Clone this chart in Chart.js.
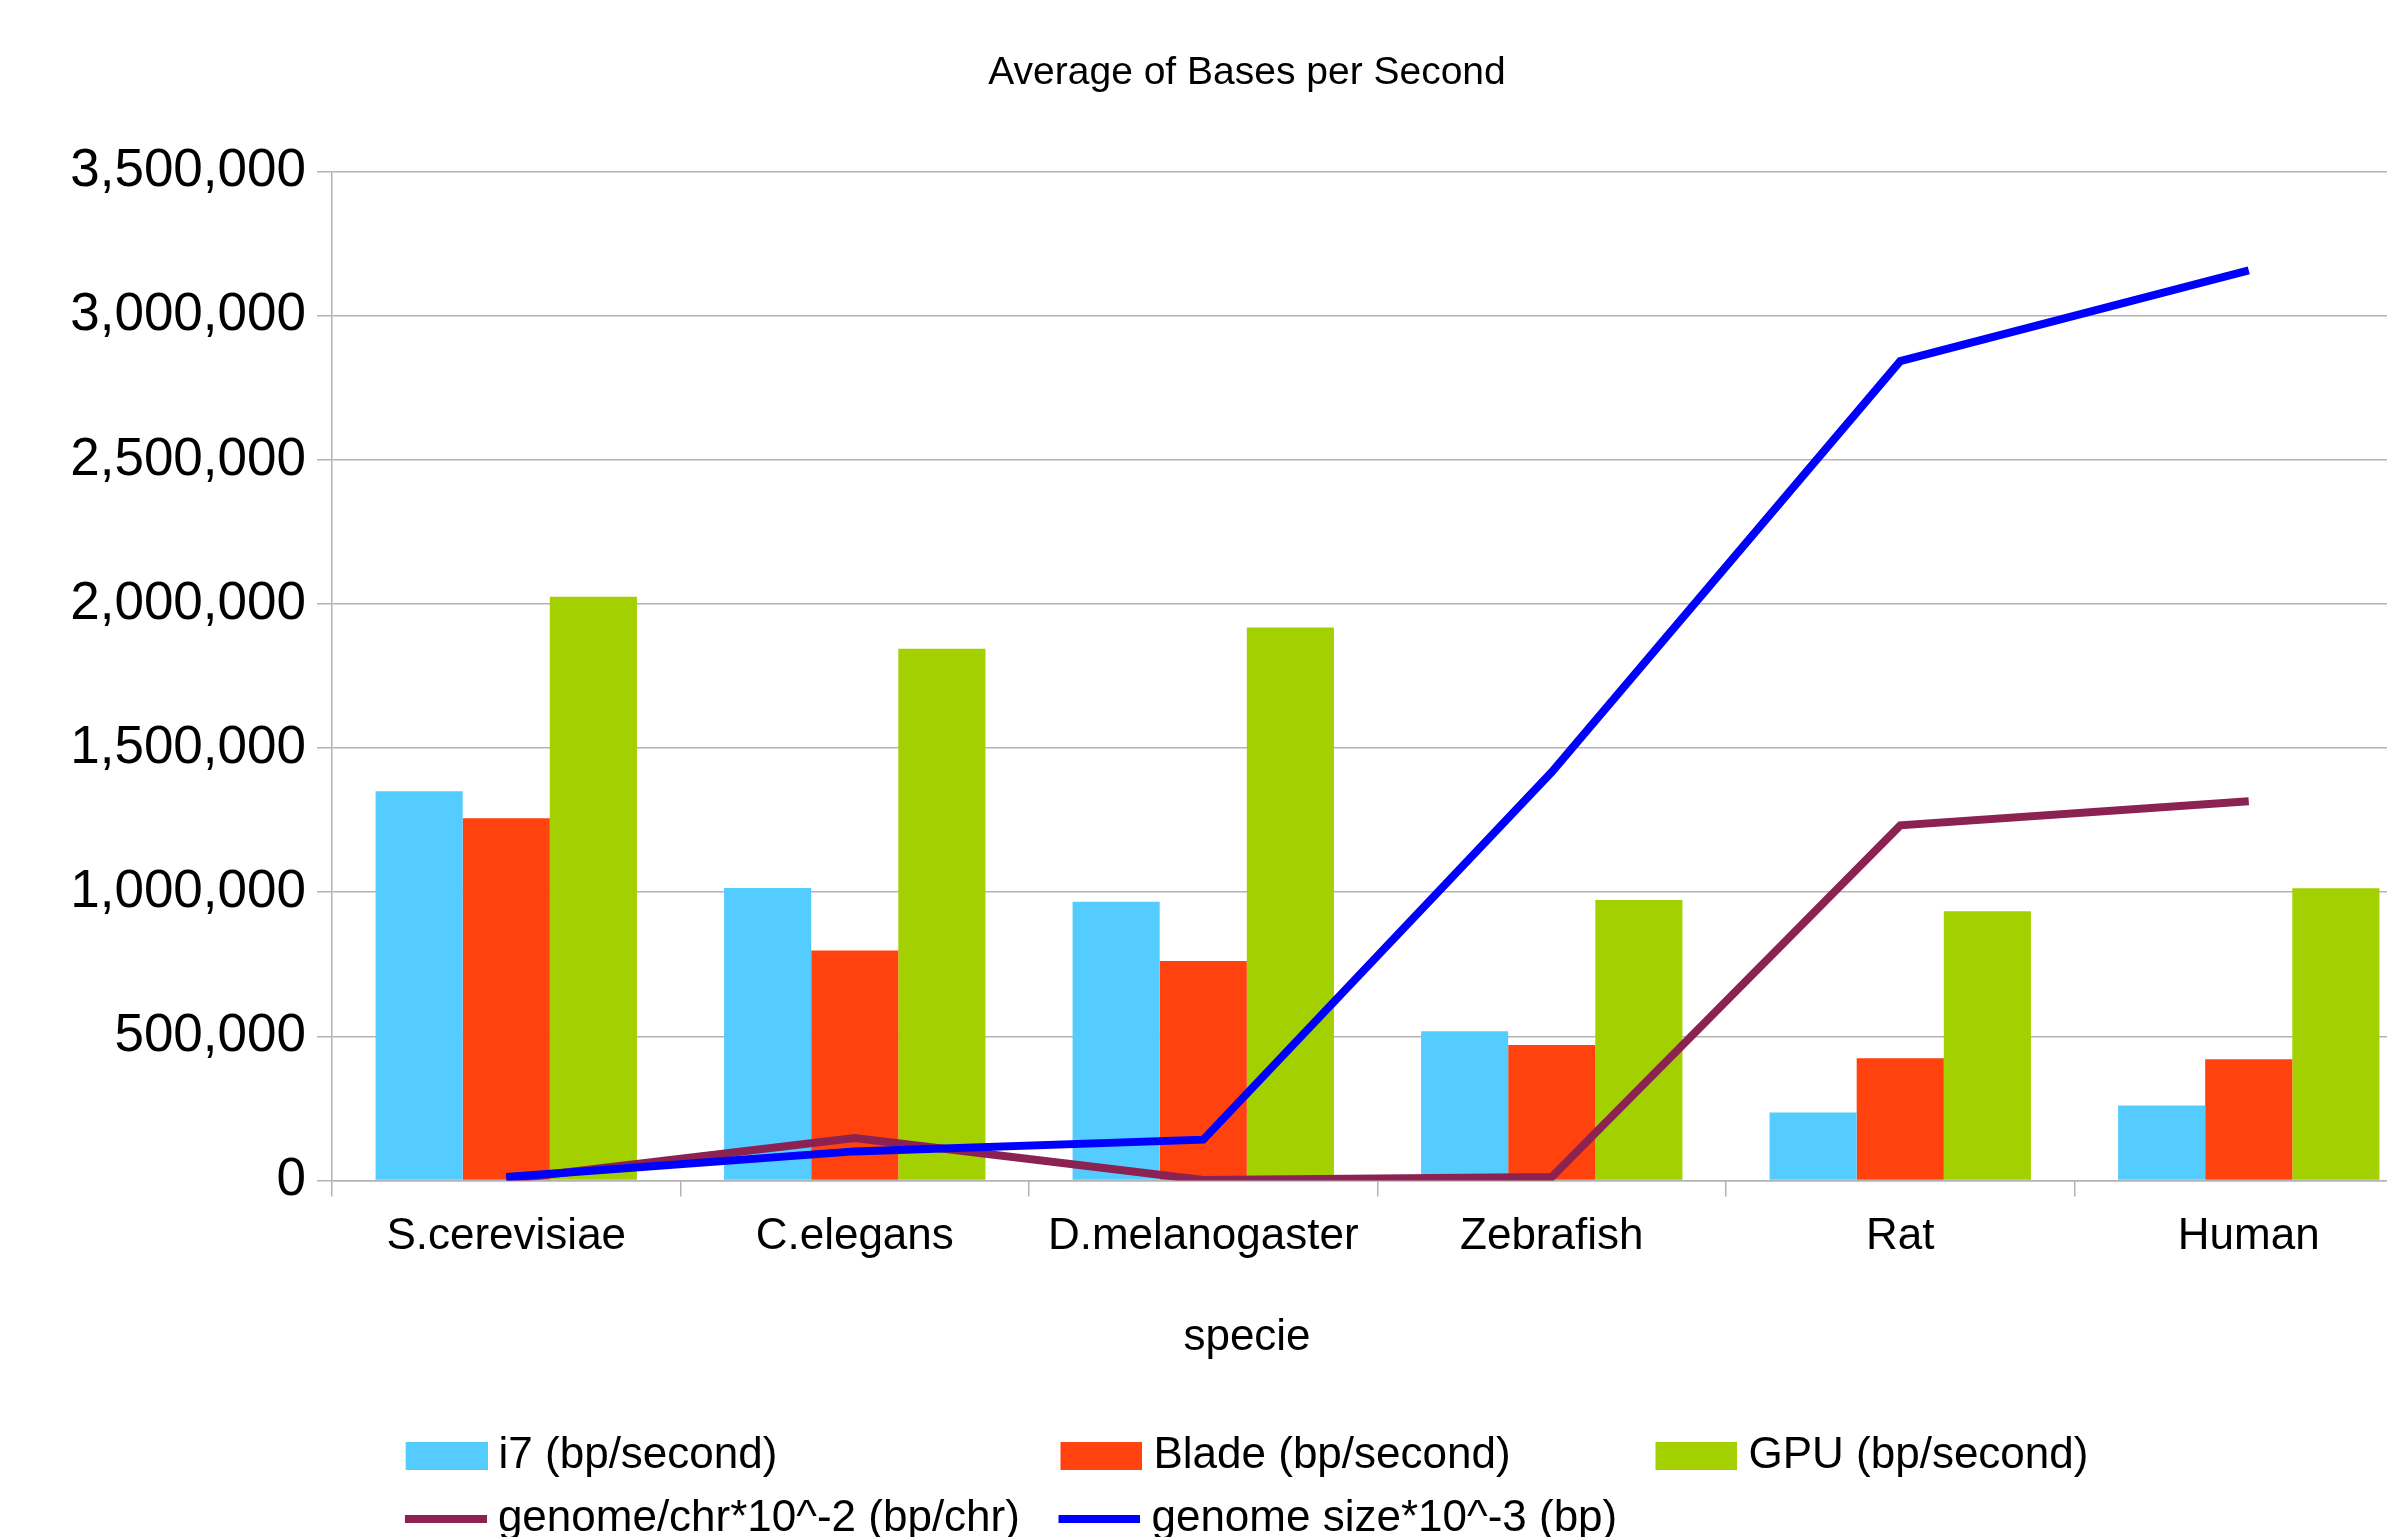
<!DOCTYPE html>
<html>
<head>
<meta charset="utf-8">
<title>Average of Bases per Second</title>
<script src="https://cdn.jsdelivr.net/npm/chart.js@4.4.0/dist/chart.umd.min.js"></script>
<style>
    html, body { margin: 0; padding: 0; background: #fff; }
    #quadro { width: 2387px; height: 1537px; overflow: hidden; }
    #grafico { display: block; width: 2494px; height: 1551px; }
</style>
</head>
<body>
<div id="quadro"><canvas id="grafico" width="2494" height="1551"></canvas></div>
<script>
// dados
const especies = ['S.cerevisiae', 'C.elegans', 'D.melanogaster', 'Zebrafish', 'Rat', 'Human'];
const i7 = [1350000, 1015000, 967000, 518000, 236000, 260000];
const blade = [1257000, 798000, 761000, 470000, 424000, 420000];
const gpu = [2025000, 1845000, 1919000, 973000, 934000, 1014000];
const genomaCromossomo = [3000, 147000, 1500, 12000, 1232000, 1316000];
const tamanhoGenoma = [11500, 100700, 141400, 1417000, 2843000, 3158000];
const ticksY = [0, 500000, 1000000, 1500000, 2000000, 2500000, 3000000, 3500000];

const cinza = '#b3b3b3';
const fonte = '"Liberation Sans", Arial, sans-serif';

Chart.defaults.font.family = fonte;
Chart.defaults.color = '#000';

// completa o texto com espacos ate a largura pedida (colunas da legenda)
function completar(ctx, texto, largura) {
    while (ctx.measureText(texto + ' ').width <= largura) texto += ' ';
    let n = 0;
    while (ctx.measureText(texto).width < largura - 1 && n < 40) { texto += '\u200A'; n++; }
    return texto;
}

// simbolo da legenda: caixa (barras) ou traco (linhas), encostado no texto
function simbolo(cor, linha) {
    const c = document.createElement('canvas');
    c.width = 93;
    c.height = 28;
    const g = c.getContext('2d');
    g.fillStyle = cor;
    if (linha) g.fillRect(11, 10, 82, 8);
    else g.fillRect(11, 0, 82, 28);
    return c;
}

function gerarLegenda(chart) {
    const itens = Chart.defaults.plugins.legend.labels.generateLabels(chart);
    itens.sort((a, b) => a.datasetIndex - b.datasetIndex);
    const ctx = chart.ctx;
    ctx.save();
    ctx.font = '44px ' + fonte;
    itens[0].text = completar(ctx, itens[0].text, 541);
    itens[3].text = completar(ctx, itens[3].text, 541);
    itens[1].text = completar(ctx, itens[1].text, 481);
    const w = itens.map(it => ctx.measureText(it.text).width);
    itens[4].text = completar(ctx, itens[4].text, 112 + w[0] + w[1] + w[2] - w[3]);
    ctx.restore();
    itens.forEach(it => {
        const ds = chart.data.datasets[it.datasetIndex];
        const linha = ds.type === 'line';
        it.pointStyle = simbolo(linha ? ds.borderColor : ds.backgroundColor, linha);
        it.lineWidth = 0;
    });
    return itens;
}

const ctx = document.getElementById('grafico').getContext('2d');
window.myChart = new Chart(ctx, {
    type: 'bar',
    data: {
        labels: especies,
        datasets: [
            { label: 'i7 (bp/second)', data: i7, backgroundColor: '#55ccff', order: 0 },
            { label: 'Blade (bp/second)', data: blade, backgroundColor: '#ff420e', order: 0 },
            { label: 'GPU (bp/second)', data: gpu, backgroundColor: '#a3d000', order: 0 },
            {
                type: 'line', label: 'genome/chr*10^-2 (bp/chr)', data: genomaCromossomo,
                borderColor: '#8b2252', backgroundColor: '#8b2252', borderWidth: 8,
                pointRadius: 0, tension: 0, order: -1
            },
            {
                type: 'line', label: 'genome size*10^-3 (bp)', data: tamanhoGenoma,
                borderColor: '#0000ff', backgroundColor: '#0000ff', borderWidth: 8,
                pointRadius: 0, tension: 0, order: -2
            }
        ]
    },
    options: {
        responsive: false,
        animation: false,
        devicePixelRatio: 1,
        layout: { padding: { left: 71, right: 71, top: 0, bottom: 0 } },
        datasets: { bar: { categoryPercentage: 0.75, barPercentage: 1.0 } },
        plugins: {
            tooltip: { enabled: false },
            title: {
                display: true,
                text: 'Average of Bases per Second',
                font: { size: 39, weight: 'normal' },
                padding: { top: 50, bottom: 75 }
            },
            subtitle: {
                display: true,
                text: 'specie',
                position: 'bottom',
                weight: 500,
                font: { size: 44 },
                padding: { top: 34, bottom: 51 }
            },
            legend: {
                position: 'bottom',
                labels: {
                    font: { size: 44 },
                    usePointStyle: true,
                    pointStyleWidth: 71,
                    boxHeight: 28,
                    padding: 19,
                    generateLabels: gerarLegenda
                }
            }
        },
        scales: {
            x: {
                grid: { offset: true, drawOnChartArea: false, tickLength: 16, color: cinza, lineWidth: 1.5 },
                border: { color: cinza, width: 1.5 },
                ticks: { font: { size: 44 }, padding: 14, maxRotation: 0, autoSkip: false }
            },
            y: {
                min: 0,
                max: 3500000,
                afterBuildTicks: scale => { scale.ticks = ticksY.map(v => ({ value: v })); },
                afterFit: scale => { scale.width = 261; },
                grid: { color: cinza, lineWidth: 1.5, tickLength: 15 },
                border: { color: cinza, width: 1.5 },
                ticks: {
                    font: { size: 53 },
                    padding: 11,
                    callback: v => v.toLocaleString('en-US')
                }
            }
        }
    }
});
</script>
</body>
</html>
